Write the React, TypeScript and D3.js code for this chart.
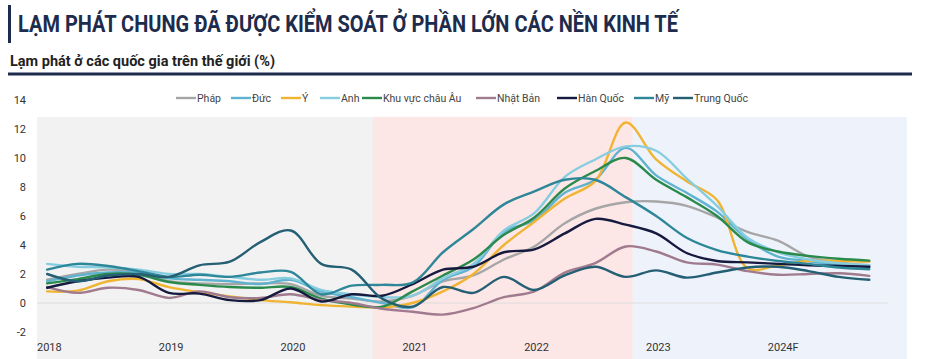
import React from "react";
import * as d3 from "d3";

// months since Jan 2018 (Feb, May, Aug, Nov each year)
const MONTHS = [1, 4, 7, 10, 13, 16, 19, 22, 25, 28, 31, 34, 37, 40, 43, 46, 49, 52, 55, 58, 61, 64, 67, 70, 73, 76, 79, 82];

const PHAP = [1.6, 2.0, 2.3, 2.1, 1.5, 1.35, 1.3, 1.35, 1.3, 0.5, 0.3, 0.1, 0.5, 1.5, 1.9, 3.0, 3.9, 5.5, 6.5, 6.95, 7.0, 6.7, 5.9, 4.9, 4.3, 3.2, 2.8, 2.6];
const DUC = [1.5, 1.9, 2.1, 2.1, 1.7, 1.6, 1.5, 1.3, 1.6, 0.8, 0.4, 0.0, -0.3, 1.6, 2.5, 4.9, 5.7, 7.6, 8.5, 10.7, 8.8, 7.6, 6.3, 4.4, 3.2, 2.9, 2.6, 2.5];
const Y_IT = [0.8, 0.85, 1.5, 1.65, 1.1, 0.75, 0.45, 0.2, 0.05, -0.15, -0.25, -0.3, 0.0, 0.8, 2.0, 4.0, 5.6, 7.2, 8.4, 12.45, 9.9, 8.4, 7.1, 2.4, 2.6, 2.9, 2.9, 2.85];
const ANH = [2.7, 2.5, 2.45, 2.3, 2.0, 2.0, 1.8, 1.6, 1.7, 0.9, 0.6, 0.4, 0.5, 1.7, 2.7, 5.0, 6.2, 8.7, 9.9, 10.8, 10.5, 8.6, 6.7, 4.5, 3.5, 3.0, 2.75, 2.6];
const KVCA = [1.35, 1.65, 2.0, 1.95, 1.45, 1.25, 1.1, 1.05, 1.1, 0.3, -0.1, -0.25, 0.8, 1.9, 3.0, 4.7, 5.9, 7.9, 9.1, 10.0, 8.5, 7.3, 6.0, 4.2, 3.55, 3.25, 3.05, 2.92];
const NHAT = [1.1, 0.7, 1.05, 0.9, 0.35, 0.8, 0.4, 0.35, 0.6, 0.2, 0.0, -0.4, -0.6, -0.8, -0.35, 0.4, 0.8, 2.1, 2.75, 3.9, 3.55, 2.8, 2.65, 2.2, 1.95, 2.0, 2.05, 1.87];
const HAN = [1.05, 1.5, 1.75, 1.8, 0.7, 0.65, 0.2, 0.2, 1.0, 0.1, 0.6, 0.5, 1.3, 2.3, 2.5, 3.5, 3.7, 4.8, 5.8, 5.4, 4.8, 3.45, 2.9, 2.8, 2.7, 2.6, 2.55, 2.5];
const MY = [2.3, 2.7, 2.55, 2.2, 1.8, 1.95, 1.8, 2.1, 2.15, 0.6, 1.2, 1.25, 1.4, 3.5, 5.1, 6.8, 7.7, 8.5, 8.5, 7.3, 6.0, 4.5, 3.65, 3.2, 2.9, 2.7, 2.45, 2.33];
const TQ = [2.0, 1.5, 1.9, 2.0, 1.8, 2.6, 2.85, 4.2, 5.0, 2.7, 2.3, 0.3, -0.25, 1.1, 0.7, 1.8, 0.9, 1.9, 2.5, 1.8, 2.25, 1.75, 2.1, 2.45, 2.5, 2.2, 1.8, 1.6];

const SERIES_NAMES = ["Pháp", "Đức", "Ý", "Anh", "Khu vực châu Âu", "Nhật Bản", "Hàn Quốc", "Mỹ", "Trung Quốc"];
const SERIES_VALUES = [PHAP, DUC, Y_IT, ANH, KVCA, NHAT, HAN, MY, TQ];
const SERIES_COLORS = ["#a6a6a6", "#5fb3d0", "#f0b432", "#86cde0", "#2a8a4c", "#a07a8e", "#151a3e", "#2e8798", "#245f74"];

const Y_TICKS = [-2, 0, 2, 4, 6, 8, 10, 12, 14];
const X_LABELS = ["2018", "2019", "2020", "2021", "2022", "2023", "2024F"];
// background periods (months since Jan 2018)
const PERIOD_START = [0, 33.1, 58.7];
const PERIOD_END = [33.1, 58.7, 85.7];
const PERIOD_COLORS = ["#f2f2f2", "#fde6e6", "#eef3fb"];
const LEGEND_X = [176, 231, 281, 320, 362, 476, 557, 634, 673];

const TITLE = "LẠM PHÁT CHUNG ĐÃ ĐƯỢC KIỂM SOÁT Ở PHẦN LỚN CÁC NỀN KINH TẾ";
const SUBTITLE = "Lạm phát ở các quốc gia trên thế giới (%)";

export default function App() {
  const W = 930, H = 359;
  const x = d3.scaleLinear().domain([0, 84]).range([37, 37 + 84 * 10.15]);
  const y = d3.scaleLinear().domain([-2, 14]).range([332, 100]);
  const line = d3
    .line<[number, number]>()
    .x((d) => x(d[0]))
    .y((d) => y(d[1]))
    .curve(d3.curveCatmullRom.alpha(0.5));
  const font = "Roboto, 'Noto Sans', sans-serif";

  return (
    <div style={{ position: "absolute", left: 0, top: 0 }}>
      <svg width={W} height={H} style={{ display: "block", background: "#fff" }} fontFamily={font}>
        {/* header */}
        <rect x={8} y={5} width={3} height={38} fill="#1d2b4c" />
        <text x={18} y={32} fontSize={24} fontWeight={700} fill="#1d2b4c" textLength={660} lengthAdjust="spacingAndGlyphs">
          {TITLE}
        </text>
        <text x={10} y={66} fontSize={14} fontWeight={700} fill="#222" textLength={265} lengthAdjust="spacingAndGlyphs">
          {SUBTITLE}
        </text>
        <line x1={8} x2={912} y1={74} y2={74} stroke="#1d2b4c" strokeWidth={3} />

        {/* background periods */}
        {PERIOD_START.map((s, i) => (
          <rect key={i} x={x(s)} y={y(12.83)} width={x(PERIOD_END[i]) - x(s)} height={H - y(12.83)} fill={PERIOD_COLORS[i]} />
        ))}
        {/* zero line */}
        <line x1={x(0)} x2={888} y1={y(0)} y2={y(0)} stroke="#dcdcdc" strokeWidth={1} />

        {/* y ticks */}
        {Y_TICKS.map((t) => (
          <text key={t} x={26} y={y(t) + 4} fontSize={11} textAnchor="end" fill="#333">
            {t}
          </text>
        ))}
        {/* x labels */}
        {X_LABELS.map((l, i) => (
          <text key={l} x={x(i * 12)} y={351} fontSize={11} fill="#333">
            {l}
          </text>
        ))}

        {/* lines */}
        {SERIES_VALUES.map((vals, i) => (
          <path
            key={SERIES_NAMES[i]}
            d={line(vals.map((v, j) => [MONTHS[j], v] as [number, number])) || ""}
            fill="none"
            stroke={SERIES_COLORS[i]}
            strokeWidth={2.4}
            strokeLinejoin="round"
            strokeLinecap="round"
          />
        ))}

        {/* legend */}
        {SERIES_NAMES.map((n, i) => (
          <g key={n} transform={`translate(${LEGEND_X[i]},98)`}>
            <line x1={0} x2={20} y1={0} y2={0} stroke={SERIES_COLORS[i]} strokeWidth={2.4} />
            <text x={21} y={4} fontSize={10.5} fill="#444">
              {n}
            </text>
          </g>
        ))}
      </svg>
    </div>
  );
}
